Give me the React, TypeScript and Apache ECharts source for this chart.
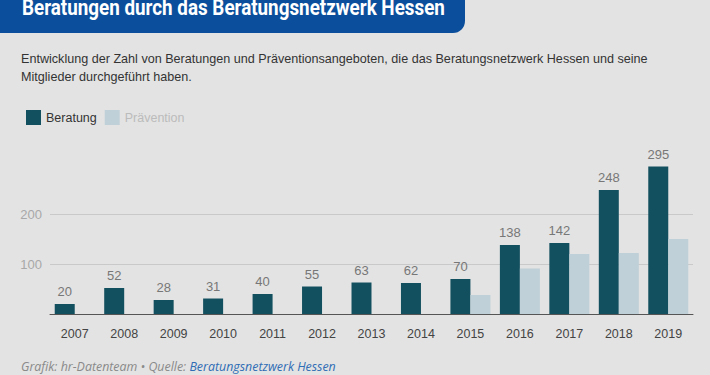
import React, { useEffect, useRef } from "react";
import * as echarts from "echarts";

const years = ["2007", "2008", "2009", "2010", "2011", "2012", "2013", "2014", "2015", "2016", "2017", "2018", "2019"];
const beratung = [20, 52, 28, 31, 40, 55, 63, 62, 70, 138, 142, 248, 295];
const praevention = [null, null, null, null, null, null, null, null, 38, 91, 120, 122, 150];
const yTickLabels = [100, 200];

const titleText = "Beratungen durch das Beratungsnetzwerk Hessen";
const subtitleLines = [
  "Entwicklung der Zahl von Beratungen und Präventionsangeboten, die das Beratungsnetzwerk Hessen und seine",
  "Mitglieder durchgeführt haben.",
];

const BG = "#e3e3e3";
const DARK = "#13505f";
const LIGHT = "#bfd0d8";
const TITLE_FONT = "bold 22px Roboto, 'Liberation Sans', sans-serif";
const TITLE_WIDTH = 423;

function measure(text: string, font: string): number {
  const c = document.createElement("canvas");
  const ctx = c.getContext("2d");
  if (!ctx) return TITLE_WIDTH;
  ctx.font = font;
  return ctx.measureText(text).width || TITLE_WIDTH;
}

export default function App() {
  const ref = useRef<HTMLDivElement>(null);
  useEffect(() => {
    if (!ref.current) return;
    const chart = echarts.init(ref.current, null, { renderer: "svg" });
    const titleScale = TITLE_WIDTH / measure(titleText, TITLE_FONT);
    chart.setOption({
      animation: false,
      backgroundColor: BG,
      textStyle: { fontFamily: "'Liberation Sans', Arial, sans-serif" },
      grid: { left: 50, right: 17, top: 164, bottom: 61 },
      legend: {
        left: 21,
        top: 105,
        icon: "rect",
        itemWidth: 15,
        itemHeight: 15,
        itemGap: 8,
        selectedMode: false,
        textStyle: { fontSize: 12.5, color: "#333" },
        data: [
          { name: "Beratung", textStyle: { color: "#333" } },
          { name: "Prävention", textStyle: { color: "#bbb" } },
        ],
      },
      xAxis: {
        type: "category",
        data: years,
        axisLine: { lineStyle: { color: "#555", width: 1 } },
        axisTick: { show: false },
        axisLabel: { color: "#444", fontSize: 12.5, margin: 13 },
      },
      yAxis: {
        type: "value",
        min: 0,
        max: 300,
        interval: 100,
        axisLine: { show: false },
        axisTick: { show: false },
        axisLabel: {
          color: "#a8a8a8",
          fontSize: 13,
          margin: 8,
          formatter: (v: number) => (yTickLabels.includes(v) ? String(v) : ""),
        },
        splitLine: { lineStyle: { color: ["transparent", "#c9c9c9", "#c9c9c9", "transparent"] } },
      },
      series: [
        {
          name: "Beratung",
          type: "bar",
          data: beratung,
          barWidth: 20,
          barGap: "0%",
          itemStyle: { color: DARK },
          label: { show: true, position: "top", distance: 6, color: "#777", fontSize: 13 },
        },
        {
          name: "Prävention",
          type: "bar",
          data: praevention,
          barWidth: 20,
          barGap: "0%",
          itemStyle: { color: LIGHT },
        },
      ],
      graphic: [
        {
          type: "rect",
          shape: { x: 0, y: -20, width: 465, height: 53, r: [0, 0, 12, 0] },
          style: { fill: "#0b4f9c" },
        },
        {
          type: "text",
          x: 22,
          y: 18,
          scaleX: titleScale,
          style: {
            text: titleText,
            fill: "#fff",
            font: TITLE_FONT,
            verticalAlign: "bottom",
          },
        },
        {
          type: "text",
          x: 21,
          y: 50,
          style: {
            text: subtitleLines.join("\n"),
            fill: "#333",
            fontSize: 12.6,
            lineHeight: 18,
            fontFamily: "'Liberation Sans', Arial, sans-serif",
          },
        },
        {
          type: "text",
          x: 21,
          y: 366,
          style: {
            text: "{g|Grafik: hr-Datenteam • Quelle: }{l|Beratungsnetzwerk Hessen}",
            verticalAlign: "middle",
            rich: {
              g: { fill: "#8a8a8a", fontSize: 12.4, fontStyle: "italic", fontFamily: "'Open Sans', sans-serif" },
              l: { fill: "#2f6db5", fontSize: 12.4, fontStyle: "italic", fontFamily: "'Open Sans', sans-serif" },
            },
          },
        },
      ],
    });
    return () => chart.dispose();
  }, []);
  return (
    <div
      ref={ref}
      style={{ position: "fixed", left: 0, top: 0, width: 710, height: 375, background: BG }}
    />
  );
}
